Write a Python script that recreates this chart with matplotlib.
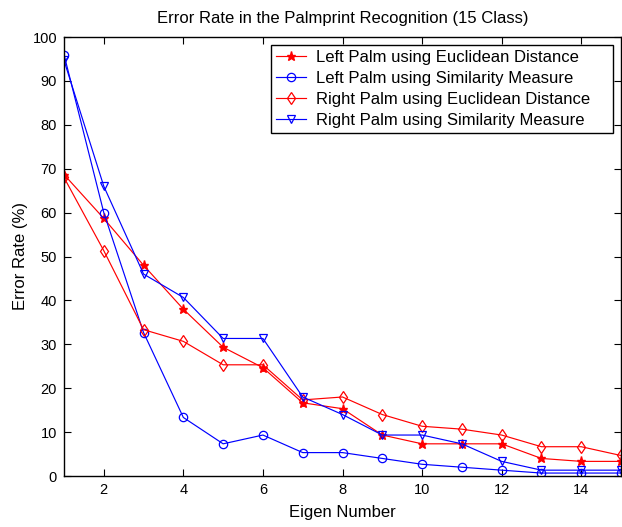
import matplotlib
matplotlib.use("Agg")
import matplotlib.pyplot as plt

plt.rcParams['font.family'] = ['Liberation Sans', 'DejaVu Sans']

eigen = list(range(1, 16))
left_euclid = [68.67, 58.67, 48.0, 38.0, 29.33, 24.67, 16.67, 15.33, 9.33, 7.33, 7.33, 7.33, 4.0, 3.33, 3.33]
left_sim = [96.0, 60.0, 32.67, 13.33, 7.33, 9.33, 5.33, 5.33, 4.0, 2.67, 2.0, 1.33, 0.67, 0.67, 0.67]
right_euclid = [68.0, 51.33, 33.33, 30.67, 25.33, 25.33, 17.33, 18.0, 14.0, 11.33, 10.67, 9.33, 6.67, 6.67, 4.67]
right_sim = [94.67, 66.0, 46.0, 40.67, 31.33, 31.33, 18.0, 14.0, 9.33, 9.33, 7.33, 3.33, 1.33, 1.33, 1.33]
labels = ["Left Palm using Euclidean Distance", "Left Palm using Similarity Measure",
          "Right Palm using Euclidean Distance", "Right Palm using Similarity Measure"]
xticks = [2, 4, 6, 8, 10, 12, 14]
yticks = list(range(0, 101, 10))

W, H = 622, 527
fig = plt.figure(figsize=(W / 100, H / 100), dpi=100)
fig.patch.set_facecolor('white')
ax = fig.add_axes([64 / W, (H - 476) / H, (621 - 64) / W, (476 - 37) / H])

lw = 0.85
ax.plot(eigen, left_euclid, color='red', marker='*', markersize=6.5, lw=lw, label=labels[0])
ax.plot(eigen, left_sim, color='blue', marker='o', markersize=6, markerfacecolor='none', mew=0.9, lw=lw, label=labels[1])
ax.plot(eigen, right_euclid, color='red', marker='d', markersize=6, markerfacecolor='none', mew=0.9, lw=lw, label=labels[2])
ax.plot(eigen, right_sim, color='blue', marker='v', markersize=5.5, markerfacecolor='none', mew=0.9, lw=lw, label=labels[3])

ax.set_xlim(1, 15)
ax.set_ylim(0, 100)
ax.set_xticks(xticks)
ax.set_yticks(yticks)
ax.tick_params(direction='in', top=True, right=True, length=5, labelsize=10.5, pad=5)
for s in ax.spines.values():
    s.set_linewidth(1.0)

ax.set_title("Error Rate in the Palmprint Recognition (15 Class)", fontsize=12, pad=10)
ax.set_xlabel("Eigen Number", fontsize=12, labelpad=6)
ax.set_ylabel("Error Rate (%)", fontsize=12, labelpad=3)

x0 = (271 - 64) / 557
x1 = (613 - 64) / 557
ytop = (476 - 45) / 439
leg = ax.legend(loc='upper left', bbox_to_anchor=(x0, ytop - 0.3, x1 - x0, 0.3), mode='expand',
                fontsize=12, frameon=True, fancybox=False, borderaxespad=0,
                edgecolor='black', handlelength=1.8, borderpad=0.3, labelspacing=0.35,
                handletextpad=0.6, framealpha=1)
leg.get_frame().set_linewidth(1.0)

fig.savefig("out.png", dpi=100, facecolor='white')
